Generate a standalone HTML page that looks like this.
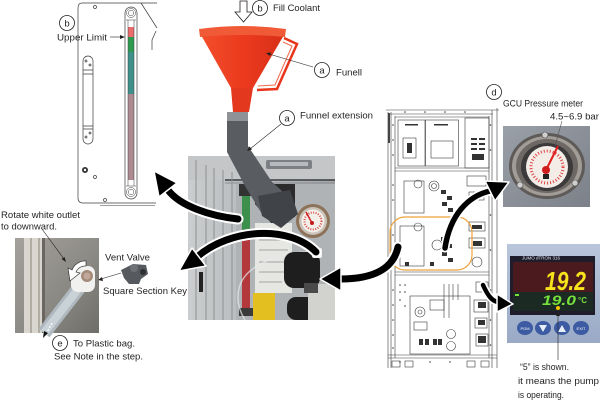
<!DOCTYPE html>
<html><head><meta charset="utf-8"><style>
html,body{margin:0;padding:0;background:#fff;width:600px;height:401px;overflow:hidden}
svg{display:block}
text{font-family:"Liberation Sans",Arial,sans-serif;fill:#231f20}
</style></head><body>
<svg width="600" height="401" viewBox="0 0 600 401" xmlns="http://www.w3.org/2000/svg">
<defs>
<linearGradient id="metal" x1="0" y1="0" x2="1" y2="0">
<stop offset="0" stop-color="#cbcdce"/><stop offset="0.35" stop-color="#babdbf"/><stop offset="1" stop-color="#a2a5a8"/>
</linearGradient>
<linearGradient id="vent" x1="0" y1="0" x2="1" y2="1">
<stop offset="0" stop-color="#a3a19a"/><stop offset="0.55" stop-color="#8c8a84"/><stop offset="1" stop-color="#6f6d68"/>
</linearGradient>
<linearGradient id="fun" x1="0" y1="0" x2="1" y2="0">
<stop offset="0" stop-color="#f24e2c"/><stop offset="0.5" stop-color="#ec3a1e"/><stop offset="1" stop-color="#d83018"/>
</linearGradient>
<linearGradient id="gbg" x1="0" y1="0" x2="1" y2="1">
<stop offset="0" stop-color="#9aa0a8"/><stop offset="1" stop-color="#7c8189"/>
</linearGradient>
<linearGradient id="ctl" x1="0" y1="0" x2="0" y2="1">
<stop offset="0" stop-color="#b9c5da"/><stop offset="1" stop-color="#9aaac6"/>
</linearGradient>
</defs>

<!-- ============ Level gauge drawing ============ -->
<g fill="none" stroke="#3c3c3c" stroke-width="0.7">
<path d="M82,3H141 M78,8Q78,3 82,3 M78,8V198Q78,203 83,203H156"/>
<path d="M100,205.5H155" stroke-width="0.5"/>
<path d="M141,3L157,28 M141,3H157"/>
<path d="M156,31L152,40V50"/>
<rect x="83" y="56" width="10" height="88" rx="5"/>
<path d="M83,70H93 M83,74H93 M83,126H93 M83,129H93"/>
<circle cx="95" cy="7" r="1.5"/>
<circle cx="95" cy="177" r="1.5"/>
<circle cx="105" cy="200" r="1.5"/>
<circle cx="86" cy="61" r="1"/><circle cx="90" cy="65" r="1"/>
<circle cx="86" cy="137" r="1"/><circle cx="90" cy="133" r="1"/>
</g>
<circle cx="85" cy="170" r="3" fill="#333"/><circle cx="85" cy="170" r="1.2" fill="#fff"/>
<rect x="125" y="7" width="12" height="192" rx="6" fill="#fff" stroke="#3c3c3c" stroke-width="0.7"/>
<rect x="128" y="27" width="6" height="10" fill="#ec6b6c"/>
<rect x="128" y="37" width="6" height="15" fill="#2e9a50"/>
<rect x="128" y="52" width="6" height="42" fill="#3e918a"/>
<rect x="128" y="94" width="6" height="86" fill="#ad8a90"/>
<g fill="none" stroke="#3c3c3c" stroke-width="0.5">
<line x1="128" y1="20" x2="128" y2="186"/><line x1="134" y1="20" x2="134" y2="186"/>
<circle cx="131" cy="13" r="4.5"/><circle cx="131" cy="13" r="2.8"/>
<circle cx="131" cy="192" r="4.5"/><circle cx="131" cy="192" r="2.8"/>
<path d="M126,20H136 M126,186H136"/>
</g>

<!-- ============ Main photo ============ -->
<rect x="188" y="156" width="147" height="164" fill="url(#metal)"/>
<rect x="188" y="156" width="147" height="24" fill="#c4c6c8"/>
<rect x="266" y="160" width="46" height="9" rx="2" fill="#7c8084"/>
<rect x="270" y="162" width="38" height="4" fill="#b8bbbe"/>
<line x1="225" y1="180" x2="335" y2="180" stroke="#3a3c3e" stroke-width="1.5"/>
<line x1="225" y1="183" x2="335" y2="183" stroke="#8a8d90" stroke-width="1"/>
<g stroke="#8d9194" stroke-width="1">
<line x1="196" y1="160" x2="196" y2="320"/>
<line x1="206" y1="165" x2="206" y2="320"/>
<line x1="214" y1="168" x2="214" y2="320"/>
<line x1="223" y1="170" x2="223" y2="320"/>
<line x1="232" y1="172" x2="232" y2="320"/>
</g>
<rect x="199" y="272" width="4" height="20" fill="#222"/>
<rect x="236" y="184" width="99" height="136" fill="#b0b3b6"/>
<path d="M255,184H295V217L272,224L255,204Z" fill="#2b2b2c"/>
<!-- gauge in photo -->
<circle cx="313" cy="221" r="17" fill="#8c7258"/>
<circle cx="313" cy="221" r="14" fill="#c9c2b8"/>
<circle cx="313" cy="221" r="11.5" fill="#f4efe9"/>
<circle cx="313" cy="221" r="8.5" fill="none" stroke="#d84a4a" stroke-width="2" stroke-dasharray="1 1.5"/>
<line x1="312" y1="223" x2="306" y2="212" stroke="#d02020" stroke-width="1.5"/>
<circle cx="312" cy="223" r="2" fill="#c01a1a"/>
<!-- sight tube -->
<rect x="239" y="184" width="14" height="12" fill="#333"/>
<rect x="242" y="196" width="8" height="34" fill="#3c8f4c"/>
<rect x="242" y="230" width="8" height="80" fill="#b2383c"/>
<rect x="239" y="308" width="14" height="8" fill="#3a3a3a"/>
<!-- labels -->
<rect x="255" y="223" width="37" height="70" fill="#e6e6e3"/>
<g stroke="#8a8a8a" stroke-width="0.8">
<line x1="259" y1="232" x2="287" y2="232"/><line x1="259" y1="240" x2="285" y2="240"/>
<line x1="259" y1="250" x2="288" y2="250"/><line x1="259" y1="262" x2="284" y2="262"/>
<line x1="259" y1="272" x2="287" y2="272"/><line x1="259" y1="282" x2="282" y2="282"/>
</g>
<rect x="253" y="293" width="22" height="27" fill="#e3bf1f"/>
<!-- clear tube -->
<path d="M318,252 C300,250 250,258 240,285 C235,300 240,312 245,320" fill="none" stroke="#e4e9eb" stroke-width="1.5" opacity="0.7"/>
<!-- black knobs & fittings -->
<rect x="284" y="252" width="36" height="36" rx="10" fill="#1e1e1f"/>
<rect x="287" y="297" width="32" height="23" rx="9" fill="#1e1e1f"/>
<rect x="308" y="284" width="27" height="36" fill="#d2d2ce"/>
<rect x="304" y="283" width="14" height="10" fill="#4a4a4a"/>
<rect x="312" y="248" width="10" height="10" rx="2" fill="#f2f2f0"/>

<!-- ============ Funnel pipe ============ -->
<path d="M227,120H248V146L272,182L292,200L280,226L262,214L245,186L227,152Z" fill="#595c61"/>
<path d="M258,196L290,190L298,214L281,228L262,216Z" fill="#404347"/>
<rect x="227" y="112" width="21" height="9" fill="#8f9397"/>
<!-- funnel -->
<path d="M201,35L284,35L253,88L231,88Z" fill="url(#fun)"/>
<path d="M199,29Q242,23 286,29L285,37Q242,33 200,37Z" fill="#f15a36"/>
<path d="M231,88H253L249,112H233Z" fill="#e3381e"/>
<path d="M284,38L297,44L277,89L257,90" fill="none" stroke="#e8361c" stroke-width="2.5"/>
<path d="M283,42L292,46L275,85L258,86" fill="none" stroke="#f26a48" stroke-width="1"/>

<!-- ============ Vent photo ============ -->
<rect x="15" y="238" width="84" height="95" fill="url(#vent)"/>
<rect x="24" y="238" width="18" height="95" fill="#d8d6cf"/>
<rect x="30" y="238" width="2" height="95" fill="#b0aca2"/>
<rect x="38" y="238" width="2" height="95" fill="#b0aca2"/>
<rect x="42" y="238" width="3" height="95" fill="#6b6760"/>
<path d="M82,284L44,333" stroke="#aeb8be" stroke-width="14"/>
<path d="M82,284L44,333" stroke="#c9d2d7" stroke-width="8"/>
<rect x="71" y="266" width="24" height="26" rx="7" fill="#f1f1ef"/>
<circle cx="87" cy="276" r="6" fill="#a38b7b"/>
<circle cx="87" cy="276" r="3.5" fill="#c2a898"/>
<path d="M52,323L45,336" stroke="#fff" stroke-width="1.3" stroke-dasharray="2 1.5"/>
<path d="M43,338L44,331L48,333Z" fill="#111"/>
<!-- rotate arrow -->
<path d="M86,261 A14,14 0 0 0 72,270 L68,268 L70,281 L80,273 L76,272 A10,10 0 0 1 86,266 Z" fill="#fff" stroke="#222" stroke-width="0.6"/>
<!-- square section key -->
<path d="M121,270L133,264L146,265L148,274L141,279L139,284L129,284L124,278Z" fill="#56595d"/>
<circle cx="134" cy="268" r="4" fill="#6e7175"/>
<circle cx="143" cy="272" r="3" fill="#2e3033"/>

<!-- ============ Cabinet drawing ============ -->
<g fill="none" stroke="#3a3a3a" stroke-width="0.6">
<path d="M388,112V368 M391,112V368 M395,116V358 M489,116V358 M492,110V368 M497,108V368"/>
<path d="M386,110H499 M388,114H493 M395,117H489"/>
<rect x="398" y="120" width="27" height="46"/>
<rect x="425.5" y="120" width="33" height="46"/>
<rect x="403" y="138" width="13" height="20"/>
<rect x="431" y="141" width="22" height="17"/>
<rect x="465" y="118" width="24" height="50"/>
<path d="M395,168H489 M395,171H489"/>
<rect x="404" y="181" width="20" height="32"/>
<circle cx="418" cy="184" r="4"/>
<circle cx="434" cy="186" r="5"/>
<circle cx="434" cy="186" r="2.5"/>
<rect x="467" y="176" width="19" height="10"/>
<rect x="469" y="192" width="15" height="8"/>
<rect x="400" y="226" width="24" height="40"/>
<circle cx="418" cy="227" r="4"/>
<circle cx="437" cy="245" r="5"/>
<rect x="469" y="222" width="16" height="9"/>
<rect x="469" y="238" width="16" height="10"/>
<circle cx="477" cy="262" r="5"/>
<path d="M395,272H489 M395,275H489"/>
<rect x="410" y="296" width="60" height="58"/>
<circle cx="420" cy="312" r="5"/><circle cx="420" cy="312" r="2"/>
<rect x="414" y="322" width="13" height="8"/>
<rect x="430" y="300" width="14" height="10"/>
<circle cx="451" cy="334" r="4.5"/><circle cx="451" cy="346" r="4.5"/>
<path d="M444,284V318 M449,284V318 M453,284V300 M458,284V300"/>
<rect x="476" y="282" width="12" height="10"/>
<rect x="474" y="300" width="14" height="12"/>
<rect x="475" y="318" width="12" height="10"/>
<rect x="476" y="334" width="12" height="12"/>
<path d="M388,355H497 M388,358H497"/>
<rect x="392" y="361" width="8" height="6"/><rect x="405" y="361" width="8" height="6"/>
<rect x="467" y="361" width="8" height="6"/><rect x="481" y="361" width="8" height="6"/>
</g>
<line x1="389" y1="113" x2="389" y2="143" stroke="#444" stroke-width="2"/>
<g fill="#333">
<rect x="405" y="124" width="13" height="1.5"/><rect x="434" y="124" width="14" height="1.5"/>
<rect x="407" y="143" width="5" height="10"/>
<rect x="471" y="138" width="6" height="2"/><rect x="479" y="138" width="6" height="2"/>
<rect x="471" y="143" width="6" height="2"/><rect x="479" y="143" width="6" height="2"/>
<rect x="471" y="148" width="6" height="2"/><rect x="479" y="148" width="6" height="2"/>
<rect x="472" y="154" width="12" height="6"/>
<rect x="441" y="190" width="5" height="4"/><rect x="447" y="196" width="5" height="4"/>
<rect x="442" y="202" width="5" height="4"/><rect x="448" y="208" width="5" height="4"/>
<rect x="441" y="237" width="5" height="4"/><rect x="447" y="244" width="5" height="4"/>
<rect x="442" y="252" width="5" height="4"/><rect x="448" y="258" width="5" height="4"/>
<rect x="472" y="225" width="10" height="4"/><rect x="473" y="241" width="9" height="5"/>
<rect x="419" y="339" width="4" height="6"/><rect x="425" y="339" width="4" height="6"/>
<rect x="433" y="339" width="4" height="6"/><rect x="438" y="339" width="4" height="6"/>
<rect x="478" y="302" width="8" height="6"/><rect x="478" y="320" width="7" height="5"/>
<rect x="478" y="336" width="8" height="7"/>
<rect x="405" y="262" width="4" height="4"/><rect x="430" y="262" width="4" height="4"/>
</g>
<g fill="#444">
<circle cx="393" cy="125" r="0.8"/><circle cx="393" cy="140" r="0.8"/><circle cx="393" cy="155" r="0.8"/>
<circle cx="393" cy="185" r="0.8"/><circle cx="393" cy="200" r="0.8"/><circle cx="393" cy="235" r="0.8"/>
<circle cx="393" cy="250" r="0.8"/><circle cx="393" cy="290" r="0.8"/><circle cx="393" cy="305" r="0.8"/>
<circle cx="393" cy="320" r="0.8"/><circle cx="393" cy="335" r="0.8"/><circle cx="393" cy="348" r="0.8"/>
<circle cx="490.5" cy="125" r="0.8"/><circle cx="490.5" cy="150" r="0.8"/><circle cx="490.5" cy="185" r="0.8"/>
<circle cx="490.5" cy="215" r="0.8"/><circle cx="490.5" cy="250" r="0.8"/><circle cx="490.5" cy="290" r="0.8"/>
<circle cx="490.5" cy="320" r="0.8"/><circle cx="490.5" cy="345" r="0.8"/>
<circle cx="400" cy="285" r="0.8"/><circle cx="405" cy="285" r="0.8"/><circle cx="400" cy="292" r="0.8"/>
<circle cx="405" cy="292" r="0.8"/><circle cx="400" cy="300" r="0.8"/><circle cx="405" cy="306" r="0.8"/>
<circle cx="400" cy="362" r="0.8"/><circle cx="430" cy="362" r="0.8"/><circle cx="450" cy="362" r="0.8"/>
<circle cx="405" cy="112" r="0.8"/><circle cx="425" cy="112" r="0.8"/><circle cx="445" cy="112" r="0.8"/><circle cx="465" cy="112" r="0.8"/>
</g>
<rect x="390" y="217" width="82" height="53" rx="15" fill="none" stroke="#eea23a" stroke-width="1.2"/>

<!-- ============ Pressure gauge photo ============ -->
<rect x="503" y="126" width="87" height="81" fill="url(#gbg)"/>
<ellipse cx="547" cy="166" rx="38" ry="33" fill="#5e5a58"/>
<ellipse cx="547" cy="166" rx="35" ry="30" fill="#a29c97"/>
<ellipse cx="547" cy="166" rx="31" ry="27" fill="#6e6864"/>
<ellipse cx="547" cy="167" rx="26" ry="24" fill="#3c3a3a"/>
<circle cx="547" cy="167" r="21" fill="#f3ece7"/>
<circle cx="547" cy="167" r="16" fill="none" stroke="#e04444" stroke-width="3" stroke-dasharray="1 2"/>
<line x1="546" y1="170" x2="558" y2="146" stroke="#e01f1f" stroke-width="2"/>
<circle cx="546" cy="170" r="4" fill="#d01c1c"/>
<rect x="543" y="174" width="6" height="5" fill="#222"/>
<circle cx="545" cy="135" r="3" fill="#cfcfcf" stroke="#555" stroke-width="0.6"/>
<circle cx="520" cy="185" r="3" fill="#cfcfcf" stroke="#555" stroke-width="0.6"/>
<circle cx="575" cy="183" r="3" fill="#cfcfcf" stroke="#555" stroke-width="0.6"/>

<!-- ============ Controller photo ============ -->
<rect x="507" y="244" width="93" height="99" fill="url(#ctl)"/>
<rect x="510" y="256" width="85" height="59" fill="#1f1d2c"/>
<text x="522" y="259.5" font-size="4.5" style="fill:#dfe6f2">JUMO dTRON 316</text>
<rect x="513" y="262" width="80" height="30" fill="#4a1a1e"/>
<rect x="513" y="292" width="80" height="19" fill="#1c2a24"/>
<text x="545" y="290" font-size="26" font-style="italic" font-weight="bold" textLength="41" lengthAdjust="spacingAndGlyphs" style="fill:#f7e21c">19.2</text>
<text x="542" y="305" font-size="14" font-style="italic" font-weight="bold" textLength="34" lengthAdjust="spacingAndGlyphs" style="fill:#76e03c">19.0</text>
<text x="578" y="303" font-size="8" font-weight="bold" style="fill:#76e03c">°C</text>
<rect x="515" y="294" width="4" height="2" fill="#76e03c"/>
<circle cx="558" cy="308" r="2" fill="#f6c400"/>
<g fill="#3d5ba2">
<ellipse cx="525" cy="328" rx="8" ry="7"/><ellipse cx="543" cy="328" rx="8" ry="7"/>
<ellipse cx="562" cy="328" rx="8" ry="7"/><ellipse cx="581" cy="328" rx="8" ry="7"/>
</g>
<text x="525" y="330" font-size="4" text-anchor="middle" style="fill:#fff">PGM</text>
<path d="M539,325H547L543,332Z" fill="#e8eef8"/>
<path d="M558,332H566L562,325Z" fill="#e8eef8"/>
<text x="581" y="330" font-size="4" text-anchor="middle" style="fill:#fff">EXIT</text>

<!-- ============ Big arrows ============ -->
<g fill="none" stroke-linecap="round">
<path d="M238,219 C210,216 180,206 168,190" stroke="#fff" stroke-width="11"/>
<path d="M316,252 C290,225 230,228 197,257" stroke="#fff" stroke-width="11"/>
<path d="M398,247 C393,270 372,279 340,279" stroke="#fff" stroke-width="11"/>
<path d="M445,248 C450,215 468,196 490,191" stroke="#fff" stroke-width="9"/>
<path d="M483,285 C488,296 492,301 498,302" stroke="#fff" stroke-width="8"/>
<path d="M238,219 C210,216 180,206 168,190" stroke="#000" stroke-width="7"/>
<path d="M316,252 C290,225 230,228 197,257" stroke="#000" stroke-width="7"/>
<path d="M398,247 C393,270 372,279 340,279" stroke="#000" stroke-width="7"/>
<path d="M445,248 C450,215 468,196 490,191" stroke="#000" stroke-width="5.5"/>
<path d="M483,285 C488,296 492,301 498,302" stroke="#000" stroke-width="4.5"/>
</g>
<g fill="#000" stroke="#fff" stroke-width="1.5" stroke-linejoin="round">
<path d="M154,171L177,183L159,197Z"/>
<path d="M179,271L192,248L206,266Z"/>
<path d="M320,279L341,267L341,291Z"/>
<path d="M509,182L485,181L495,201Z"/>
<path d="M513,304L497,294L497,312Z"/>
</g>

<!-- ============ Labels & leaders ============ -->
<g fill="#fff" stroke="#231f20" stroke-width="0.8">
<circle cx="67" cy="23" r="7.5"/>
<circle cx="260" cy="8" r="7.5"/>
<circle cx="322" cy="70" r="7.5"/>
<circle cx="287" cy="118" r="7.5"/>
<circle cx="494" cy="92" r="7.5"/>
<circle cx="60" cy="343" r="7.5"/>
</g>
<g font-size="9.5" text-anchor="middle">
<text x="67" y="26.5">b</text>
<text x="260" y="11.5">b</text>
<text x="322" y="73.5">a</text>
<text x="287" y="121.5">a</text>
<text x="494" y="95.5">d</text>
<text x="60" y="346.5">e</text>
</g>
<path d="M240,1H247V12H252L243.5,22L235,12H240Z" fill="#fff" stroke="#231f20" stroke-width="0.8"/>

<g stroke="#231f20" stroke-width="0.6" fill="none">
<line x1="110" y1="37" x2="122" y2="37"/>
<line x1="313" y1="67" x2="269" y2="54"/>
<line x1="281" y1="124" x2="250" y2="149"/>
<line x1="42" y1="229" x2="64" y2="259"/>
<line x1="121" y1="273" x2="101" y2="279"/>
<line x1="562" y1="121" x2="555" y2="146" stroke="#555"/>
<line x1="558" y1="360" x2="558" y2="315"/>
</g>
<g fill="#231f20">
<path d="M125,37L120,35L120,39Z"/>
<path d="M266,53L271,52.5L270,56Z"/>
<path d="M247,151L249.5,146.5L252,149.5Z"/>
<path d="M66,262L61.5,259L64.5,257Z"/>
<path d="M98,280L102,277L103,281Z"/>
<path d="M558,311L556,316L560,316Z"/>
</g>

<g font-size="9.5">
<text x="57" y="40.5" textLength="50" lengthAdjust="spacingAndGlyphs">Upper Limit</text>
<text x="273" y="11" textLength="47" lengthAdjust="spacingAndGlyphs">Fill Coolant</text>
<text x="336" y="75.5" textLength="26" lengthAdjust="spacingAndGlyphs">Funell</text>
<text x="300" y="118.5" textLength="73" lengthAdjust="spacingAndGlyphs">Funnel extension</text>
<text x="1" y="218" textLength="79" lengthAdjust="spacingAndGlyphs">Rotate white outlet</text>
<text x="1" y="229.5" textLength="56" lengthAdjust="spacingAndGlyphs">to downward.</text>
<text x="105" y="260.5" textLength="45" lengthAdjust="spacingAndGlyphs">Vent Valve</text>
<text x="103" y="294" textLength="84" lengthAdjust="spacingAndGlyphs">Square Section Key</text>
<text x="73" y="346.5" textLength="62" lengthAdjust="spacingAndGlyphs">To Plastic bag.</text>
<text x="54" y="359.5" textLength="89" lengthAdjust="spacingAndGlyphs">See Note in the step.</text>
<text x="503" y="106.5" textLength="80" lengthAdjust="spacingAndGlyphs">GCU Pressure meter</text>
<text x="550" y="119.5" textLength="49" lengthAdjust="spacingAndGlyphs">4.5~6.9 bar</text>
<text x="520" y="370" textLength="49" lengthAdjust="spacingAndGlyphs">“5” is shown.</text>
<text x="518" y="384" textLength="81" lengthAdjust="spacingAndGlyphs">it means the pump</text>
<text x="518" y="398" textLength="46" lengthAdjust="spacingAndGlyphs">is operating.</text>
</g>
</svg>
</body></html>
